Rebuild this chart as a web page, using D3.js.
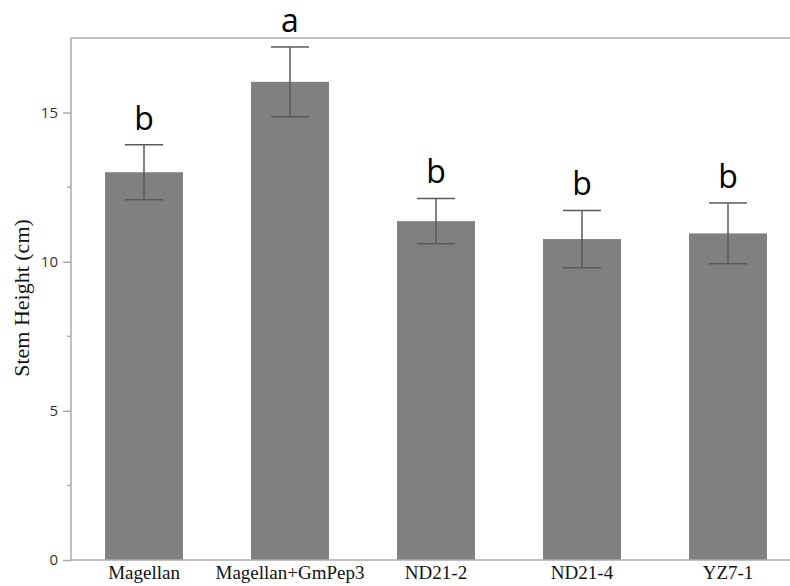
<!DOCTYPE html>
<html>
<head>
<meta charset="utf-8">
<script src="https://cdn.jsdelivr.net/npm/d3@7/dist/d3.min.js"></script>
<style>
  html, body { margin: 0; padding: 0; background: #fff; }
  svg { display: block; }
</style>
</head>
<body>
<svg id="chart" width="790" height="586"></svg>
<script>
// Stem height per line (cm), mean with error and significance letter
const categories = ["Magellan", "Magellan+GmPep3", "ND21-2", "ND21-4", "YZ7-1"];
const means = [13.0, 16.03, 11.36, 10.76, 10.95];
const errors = [0.92, 1.17, 0.76, 0.96, 1.02];
const letters = ["b", "a", "b", "b", "b"];
const yTicks = [0, 5, 10, 15];
const yMinorTicks = [2.5, 7.5, 12.5];

const W = 790, H = 586;
const plotLeft = 71, plotTop = 38, plotBottom = 560;
const svg = d3.select("#chart");

const x = d3.scaleBand()
  .domain(categories)
  .range([plotLeft, plotLeft + 146 * categories.length])
  .paddingInner(0.466)
  .paddingOuter(0.233);

const y = d3.scaleLinear().domain([0, 17.5]).range([plotBottom, plotTop]);

const axisColor = "#aaaaaa";

// Frame: top rule runs across the full width
svg.append("line")
  .attr("x1", plotLeft).attr("x2", W).attr("y1", plotTop).attr("y2", plotTop)
  .attr("stroke", axisColor).attr("stroke-width", 1.5);

// Bars
svg.append("g").selectAll("rect")
  .data(categories)
  .join("rect")
  .attr("x", d => x(d))
  .attr("width", x.bandwidth())
  .attr("y", (d, i) => y(means[i]))
  .attr("height", (d, i) => y(0) - y(means[i]))
  .attr("fill", "#808080");

// Error bars
const capHalf = 19;
const eg = svg.append("g").attr("stroke", "#5a5a5a").attr("stroke-width", 1.5);
categories.forEach((c, i) => {
  const cx = x(c) + x.bandwidth() / 2;
  const hi = y(means[i] + errors[i]), lo = y(means[i] - errors[i]);
  eg.append("line").attr("x1", cx).attr("x2", cx).attr("y1", hi).attr("y2", lo);
  eg.append("line").attr("x1", cx - capHalf).attr("x2", cx + capHalf).attr("y1", hi).attr("y2", hi);
  eg.append("line").attr("x1", cx - capHalf).attr("x2", cx + capHalf).attr("y1", lo).attr("y2", lo);
});

// Significance letters
svg.append("g").selectAll("text")
  .data(categories)
  .join("text")
  .attr("x", d => x(d) + x.bandwidth() / 2)
  .attr("y", (d, i) => y(means[i] + errors[i]) - 15)
  .attr("text-anchor", "middle")
  .attr("font-family", "'Open Sans', sans-serif")
  .attr("font-size", 32)
  .attr("fill", "#000")
  .text((d, i) => letters[i]);

// Y axis
const yAxis = svg.append("g")
  .attr("transform", `translate(${plotLeft},0)`)
  .call(d3.axisLeft(y).tickValues(yTicks).tickSize(8).tickPadding(5).tickFormat(d3.format("d")));
yAxis.select(".domain").attr("stroke", axisColor).attr("stroke-width", 1.5)
  .attr("d", `M0,${plotTop}V${plotBottom}`);
yAxis.selectAll(".tick line").attr("stroke", axisColor).attr("stroke-width", 1.5);
yAxis.selectAll(".tick text")
  .attr("font-family", "'Open Sans', sans-serif")
  .attr("font-size", 15)
  .attr("fill", "#333");

// Minor ticks
svg.append("g").selectAll("line")
  .data(yMinorTicks)
  .join("line")
  .attr("x1", plotLeft - 4).attr("x2", plotLeft)
  .attr("y1", d => y(d)).attr("y2", d => y(d))
  .attr("stroke", axisColor).attr("stroke-width", 1.5);

// X axis
const xAxis = svg.append("g")
  .attr("transform", `translate(0,${plotBottom})`)
  .call(d3.axisBottom(x).tickSize(0).tickPadding(6));
xAxis.select(".domain").attr("stroke", axisColor).attr("stroke-width", 1.5)
  .attr("d", `M${plotLeft},0H${W}`);
xAxis.selectAll(".tick text")
  .attr("font-family", "'Liberation Serif', 'Times New Roman', serif")
  .attr("font-size", 19)
  .attr("fill", "#111");

// Y axis title
svg.append("text")
  .attr("transform", "translate(29,298) rotate(-90)")
  .attr("text-anchor", "middle")
  .attr("font-family", "'Liberation Serif', 'Times New Roman', serif")
  .attr("font-size", 22)
  .attr("fill", "#111")
  .text("Stem Height (cm)");
</script>
</body>
</html>
